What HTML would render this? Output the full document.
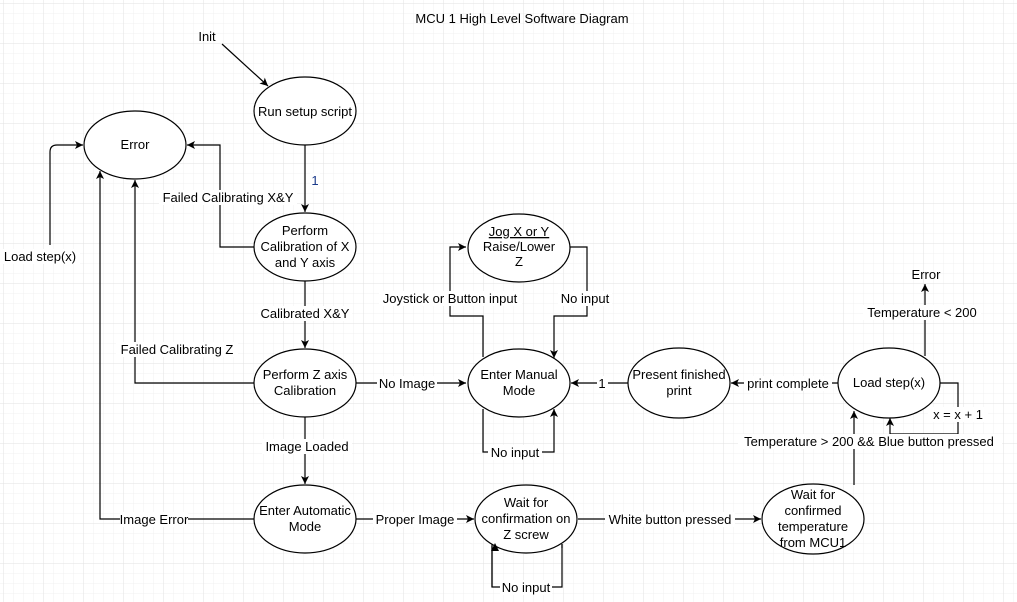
<!DOCTYPE html>
<html><head><meta charset="utf-8"><style>
html,body{margin:0;padding:0;background:#fff}
svg{display:block}
text{font-family:"Liberation Sans",Arial,sans-serif;font-size:13px;fill:#000}
</style></head><body>
<svg width="1017" height="602" viewBox="0 0 1017 602" xmlns="http://www.w3.org/2000/svg">
<defs>
<pattern id="g1" width="10" height="10" patternUnits="userSpaceOnUse"><path d="M10 0V10H0" fill="none" stroke="#f0f0f0" stroke-width="1"/></pattern>
<pattern id="g2" width="40" height="40" patternUnits="userSpaceOnUse" x="4" y="4"><rect width="40" height="40" fill="url(#g1)"/><path d="M40 0V40H0" fill="none" stroke="#e2e2e2" stroke-width="1"/></pattern>
<marker id="a" markerWidth="10" markerHeight="10" refX="8" refY="5" orient="auto" markerUnits="userSpaceOnUse"><path d="M0,1 L8,5 L0,9 L2,5 Z" fill="#000"/></marker>
</defs>
<rect width="1017" height="602" fill="url(#g2)"/>
<g fill="none" stroke="#000" stroke-width="1.2">
<path d="M222 44 L268 86" marker-end="url(#a)"/>
<path d="M305 145 V212" marker-end="url(#a)"/>
<path d="M254 247 H220 V145 H187" marker-end="url(#a)"/>
<path d="M254 383 H135 V180" marker-end="url(#a)"/>
<path d="M254 519 H100 V171" marker-end="url(#a)"/>
<path d="M50 245 V152 Q50 145 57 145 H83" marker-end="url(#a)"/>
<path d="M305 281 V348" marker-end="url(#a)"/>
<path d="M305 417 V484" marker-end="url(#a)"/>
<path d="M356 383 H466" marker-end="url(#a)"/>
<path d="M483 357 V316 H450 V247 H466" marker-end="url(#a)"/>
<path d="M570 247 H587 V316 H554 V358" marker-end="url(#a)"/>
<path d="M483 409 V452 H554 V409" marker-end="url(#a)"/>
<path d="M628 383 H571" marker-end="url(#a)"/>
<path d="M838 383 H731" marker-end="url(#a)"/>
<path d="M925 356 V284" marker-end="url(#a)"/>
<path d="M940 383 H958 V434 H890 V418" marker-end="url(#a)"/>
<path d="M854 485 V411" marker-end="url(#a)"/>
<path d="M356 519 H474" marker-end="url(#a)"/>
<path d="M578 519 H761" marker-end="url(#a)"/>
<path d="M492 544 V587 H562 V544"/>
<path d="M562 548 V544" />
<path d="M492 587 V546" />
</g>
<path d="M492 552 V546" stroke="none"/>
<g fill="#fff" stroke="#000" stroke-width="1.2">
<ellipse cx="305" cy="111" rx="51" ry="34"/>
<ellipse cx="135" cy="145" rx="51" ry="34"/>
<ellipse cx="305" cy="247" rx="51" ry="34"/>
<ellipse cx="305" cy="383" rx="51" ry="34"/>
<ellipse cx="305" cy="519" rx="51" ry="34"/>
<ellipse cx="519" cy="248" rx="51" ry="34"/>
<ellipse cx="519" cy="383" rx="51" ry="34"/>
<ellipse cx="526" cy="519" rx="51" ry="34"/>
<ellipse cx="679" cy="383" rx="51" ry="35"/>
<ellipse cx="889" cy="383" rx="51" ry="35"/>
<ellipse cx="813" cy="519" rx="51" ry="35"/>
</g>
<path d="M492 548 L496 541" stroke="none"/>
<g fill="#000"><path d="M495 543 l-4 8 h8z"/></g>
<g text-anchor="middle">
<text x="522" y="23">MCU 1 High Level Software Diagram</text>
<text x="207" y="41">Init</text>
<text x="305" y="116">Run setup script</text>
<text x="135" y="149">Error</text>
<text x="305" y="235">Perform</text>
<text x="305" y="251">Calibration of X</text>
<text x="305" y="267">and Y axis</text>
<text x="305" y="379">Perform Z axis</text>
<text x="305" y="395">Calibration</text>
<text x="305" y="515">Enter Automatic</text>
<text x="305" y="531">Mode</text>
<text x="519" y="236" text-decoration="underline">Jog X or Y</text>
<text x="519" y="251">Raise/Lower</text>
<text x="519" y="266">Z</text>
<text x="519" y="379">Enter Manual</text>
<text x="519" y="395">Mode</text>
<text x="526" y="507">Wait for</text>
<text x="526" y="523">confirmation on</text>
<text x="526" y="539">Z screw</text>
<text x="679" y="379">Present finished</text>
<text x="679" y="395">print</text>
<text x="889" y="387">Load step(x)</text>
<text x="813" y="499">Wait for</text>
<text x="813" y="515">confirmed</text>
<text x="813" y="531">temperature</text>
<text x="813" y="547">from MCU1</text>
<text x="926" y="279">Error</text>
</g>
<g text-anchor="middle">
<g fill="#fff">
<rect x="310" y="173" width="10" height="14"/>
<rect x="159" y="190" width="138" height="15"/>
<rect x="116" y="342" width="122" height="15"/>
<rect x="120" y="512" width="68" height="15"/>
<rect x="258" y="306" width="94" height="15"/>
<rect x="262" y="439" width="90" height="15"/>
<rect x="377" y="376" width="60" height="15"/>
<rect x="379" y="291" width="143" height="15"/>
<rect x="558" y="291" width="54" height="15"/>
<rect x="488" y="445" width="54" height="15"/>
<rect x="597" y="376" width="11" height="15"/>
<rect x="744" y="376" width="88" height="15"/>
<rect x="863" y="305" width="118" height="15"/>
<rect x="928" y="407" width="60" height="15"/>
<rect x="738" y="434" width="264" height="15"/>
<rect x="373" y="512" width="84" height="15"/>
<rect x="605" y="512" width="130" height="15"/>
<rect x="500" y="580" width="52" height="15"/>
<rect x="0" y="249" width="80" height="15"/>
</g>
<text x="315" y="185" fill="#1a3a8a" style="fill:#1a3a8a">1</text>
<text x="228" y="202">Failed Calibrating X&amp;Y</text>
<text x="177" y="354">Failed Calibrating Z</text>
<text x="154" y="524">Image Error</text>
<text x="305" y="318">Calibrated X&amp;Y</text>
<text x="307" y="451">Image Loaded</text>
<text x="407" y="388">No Image</text>
<text x="450" y="303">Joystick or Button input</text>
<text x="585" y="303">No input</text>
<text x="515" y="457">No input</text>
<text x="602" y="388">1</text>
<text x="788" y="388">print complete</text>
<text x="922" y="317">Temperature &lt; 200</text>
<text x="958" y="419">x = x + 1</text>
<text x="869" y="446">Temperature &gt; 200 &amp;&amp; Blue button pressed</text>
<text x="415" y="524">Proper Image</text>
<text x="670" y="524">White button pressed</text>
<text x="526" y="592">No input</text>
<text x="40" y="261">Load step(x)</text>
</g>
</svg>
</body></html>
